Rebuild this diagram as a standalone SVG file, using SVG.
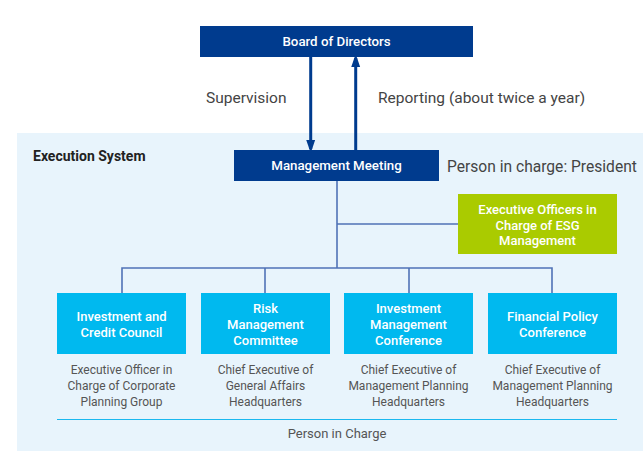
<svg xmlns="http://www.w3.org/2000/svg" width="643" height="451" viewBox="0 0 643 451">
<style>
text{font-family:Roboto,"Liberation Sans",sans-serif;}
.dark{fill:#003b8e;}
.cyan{fill:#00b9ef;}
.green{fill:#aacb00;}
.lbl{fill:#fff;font-size:13px;font-weight:500;text-anchor:middle;}
.desc{fill:#555;font-size:12px;text-anchor:middle;}
.note{fill:#444;font-size:15.5px;}
.conn{stroke:#4f72b6;stroke-width:1.6;fill:none;}
.arr{stroke:#003b8e;stroke-width:3;fill:none;}
</style>
<defs>
<marker id="ah" markerWidth="13" markerHeight="19" refX="13" refY="6.5" orient="auto" markerUnits="userSpaceOnUse" viewBox="0 0 19 13">
<path d="M0,0 L19,6.5 L0,13 Z" fill="#003b8e"/>
</marker>
</defs>
<rect x="17" y="133" width="626" height="318" fill="#e8f4fc"/>
<text x="33" y="160.5" style="font-size:14px;font-weight:bold;fill:#222">Execution System</text>
<text x="206" y="103" class="note">Supervision</text>
<text x="378" y="103" class="note">Reporting (about twice a year)</text>

<g id="connectors">
<line x1="310.7" y1="57" x2="310.7" y2="149" class="arr" marker-end="url(#ah)"/>
<line x1="355.7" y1="150" x2="355.7" y2="58" class="arr" marker-end="url(#ah)"/>
<polyline points="337,181 337,268" class="conn"/>
<line x1="337" y1="224" x2="458" y2="224" class="conn"/>
<polyline points="122,293 122,268 552,268 552,293" class="conn"/>
<line x1="265" y1="268" x2="265" y2="293" class="conn"/>
<line x1="409" y1="268" x2="409" y2="293" class="conn"/>
</g>

<g id="board">
<rect x="200" y="26" width="273" height="31" class="dark"/>
<text x="336.5" y="46" class="lbl" style="font-size:13.3px">Board of Directors</text>
</g>

<g id="mgmt">
<rect x="234" y="150" width="205" height="31" class="dark"/>
<text x="336.5" y="170" class="lbl" style="font-size:13.3px">Management Meeting</text>
<text x="447" y="172" style="font-size:15.6px;fill:#444">Person in charge: President</text>
</g>

<g id="esg">
<rect x="458" y="194" width="159" height="60" class="green"/>
<text x="537.5" y="213.5" class="lbl">Executive Officers in</text>
<text x="537.5" y="229.5" class="lbl">Charge of ESG</text>
<text x="537.5" y="245" class="lbl">Management</text>
</g>

<g id="icc">
<rect x="57" y="293" width="129" height="61" class="cyan"/>
<text x="121.5" y="321" class="lbl">Investment and</text>
<text x="121.5" y="337" class="lbl">Credit Council</text>
<text x="121.5" y="374" class="desc">Executive Officer in</text>
<text x="121.5" y="390" class="desc">Charge of Corporate</text>
<text x="121.5" y="406" class="desc">Planning Group</text>
</g>

<g id="rmc">
<rect x="201" y="293" width="129" height="61" class="cyan"/>
<text x="265.5" y="313" class="lbl">Risk</text>
<text x="265.5" y="329" class="lbl">Management</text>
<text x="265.5" y="345" class="lbl">Committee</text>
<text x="265.5" y="374" class="desc">Chief Executive of</text>
<text x="265.5" y="390" class="desc">General Affairs</text>
<text x="265.5" y="406" class="desc">Headquarters</text>
</g>

<g id="imc">
<rect x="344" y="293" width="129" height="61" class="cyan"/>
<text x="408.5" y="313" class="lbl">Investment</text>
<text x="408.5" y="329" class="lbl">Management</text>
<text x="408.5" y="345" class="lbl">Conference</text>
<text x="408.5" y="374" class="desc">Chief Executive of</text>
<text x="408.5" y="390" class="desc">Management Planning</text>
<text x="408.5" y="406" class="desc">Headquarters</text>
</g>

<g id="fpc">
<rect x="488" y="293" width="129" height="61" class="cyan"/>
<text x="552.5" y="321" class="lbl">Financial Policy</text>
<text x="552.5" y="337" class="lbl">Conference</text>
<text x="552.5" y="374" class="desc">Chief Executive of</text>
<text x="552.5" y="390" class="desc">Management Planning</text>
<text x="552.5" y="406" class="desc">Headquarters</text>
</g>

<line x1="57" y1="419.5" x2="617" y2="419.5" stroke="#1ab8ef" stroke-width="1.2"/>
<text x="337" y="438" class="desc" style="font-size:13px">Person in Charge</text>
</svg>
